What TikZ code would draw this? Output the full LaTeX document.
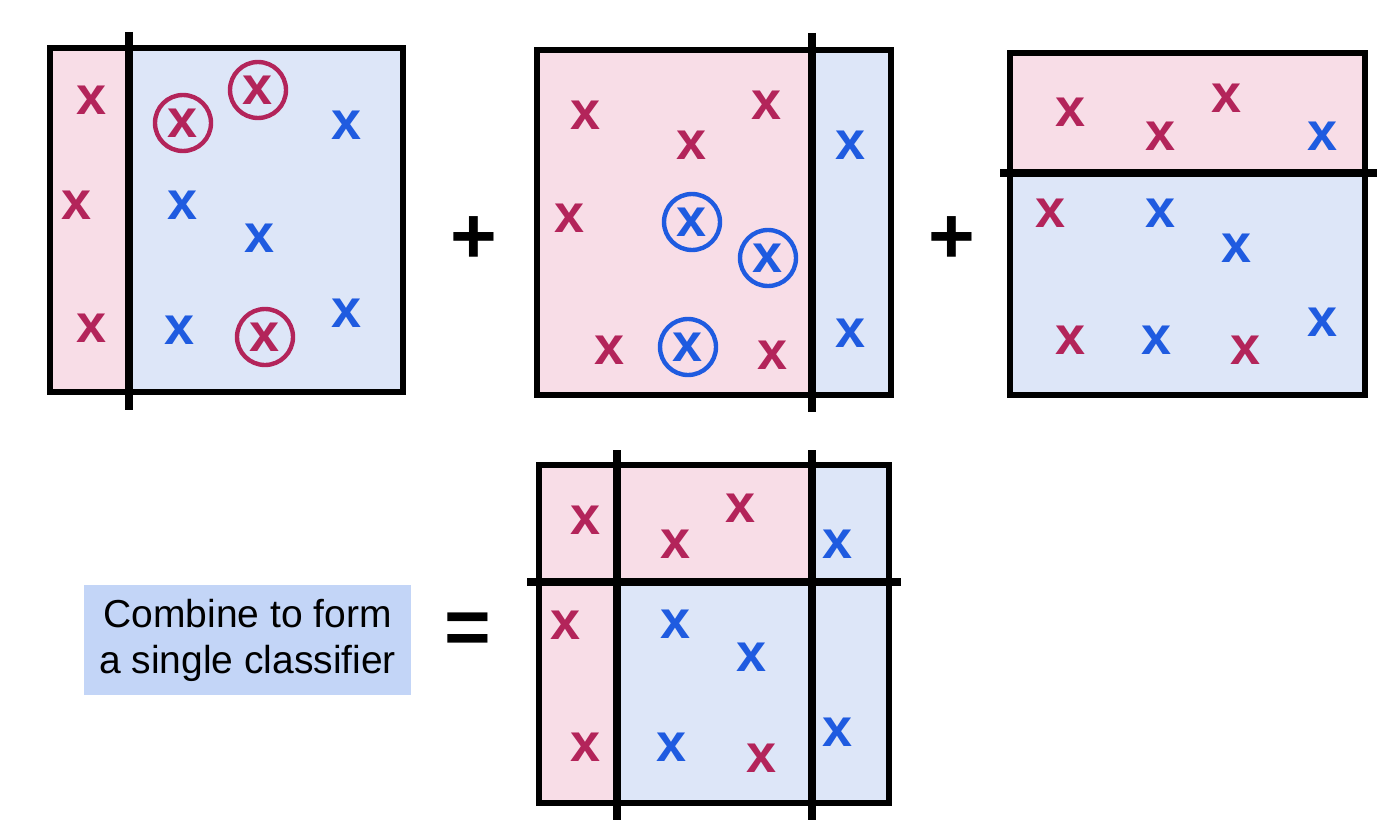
\documentclass[tikz,border=0pt]{standalone}
\usepackage{fontspec}
\setmainfont{Liberation Sans}
\definecolor{xr}{HTML}{B3245A}
\definecolor{xb}{HTML}{1F5BE0}
\definecolor{pk}{HTML}{F8DDE7}
\definecolor{bl}{HTML}{DDE6F8}
\definecolor{lab}{HTML}{C3D5F7}
\begin{document}
\begin{tikzpicture}[x=0.5pt,y=-0.5pt,
  rx/.style={text=xr,font=\fontsize{27}{28}\selectfont\bfseries,inner sep=0pt},
  bx/.style={text=xb,font=\fontsize{27}{28}\selectfont\bfseries,inner sep=0pt},
  rc/.style={rx,circle,draw=xr,line width=2.2pt,minimum size=28pt},
  bc/.style={bx,circle,draw=xb,line width=2.2pt,minimum size=28pt},
  frame/.style={draw=black,line width=2.6pt},
  sep/.style={draw=black,line width=3.8pt},
  op/.style={font=\fontsize{40}{40}\selectfont\bfseries,inner sep=0pt}]
\useasboundingbox[fill=white] (0,0) rectangle (1400,829);
% panel 1
\fill[pk] (50,48) rectangle (129,392);
\fill[bl] (129,48) rectangle (403,392);
\draw[frame] (50,48) rectangle (403,392);
\coordinate (a1) at (129,32); \coordinate (a2) at (129,410);
\draw[sep] (a1) -- (a2);
\node[rx] (p1a) at (92,100) {x};
\node[rx] (p1b) at (77,205) {x};
\node[rx] (p1c) at (92,328) {x};
\node[rc] (p1d) at (183,123) {x};
\node[rc] (p1e) at (258,90) {x};
\node[rc] (p1f) at (265,337) {x};
\node[bx] (p1g) at (347,125) {x};
\node[bx] (p1h) at (183,205) {x};
\node[bx] (p1i) at (260,238) {x};
\node[bx] (p1j) at (180,330) {x};
\node[bx] (p1k) at (347,313) {x};
\node[op] (plus1) at (474,240) {+};
% panel 2
\fill[pk] (537,50) rectangle (812,395);
\fill[bl] (812,50) rectangle (891,395);
\draw[frame] (537,50) rectangle (891,395);
\coordinate (b1) at (812,33); \coordinate (b2) at (812,412);
\draw[sep] (b1) -- (b2);
\node[rx] (p2a) at (586,115) {x};
\node[rx] (p2b) at (692,145) {x};
\node[rx] (p2c) at (767,105) {x};
\node[rx] (p2d) at (570,218) {x};
\node[rx] (p2e) at (610,350) {x};
\node[rx] (p2f) at (773,355) {x};
\node[bc] (p2g) at (692,222) {x};
\node[bc] (p2h) at (768,258) {x};
\node[bc] (p2i) at (688,347) {x};
\node[bx] (p2j) at (850,145) {x};
\node[bx] (p2k) at (850,333) {x};
\node[op] (plus2) at (952,240) {+};
% panel 3
\fill[pk] (1010,53) rectangle (1365,173);
\fill[bl] (1010,173) rectangle (1365,395);
\draw[frame] (1010,53) rectangle (1365,395);
\coordinate (c1) at (1000,173); \coordinate (c2) at (1377,173);
\draw[sep] (c1) -- (c2);
\node[rx] (p3a) at (1070,112) {x};
\node[rx] (p3b) at (1160,136) {x};
\node[rx] (p3c) at (1226,98) {x};
\node[rx] (p3d) at (1050,213) {x};
\node[rx] (p3e) at (1070,340) {x};
\node[rx] (p3f) at (1245,350) {x};
\node[bx] (p3g) at (1322,136) {x};
\node[bx] (p3h) at (1160,213) {x};
\node[bx] (p3i) at (1236,248) {x};
\node[bx] (p3j) at (1156,340) {x};
\node[bx] (p3k) at (1322,322) {x};
% bottom panel
\fill[pk] (539,465) rectangle (812,582);
\fill[bl] (812,465) rectangle (889,582);
\fill[pk] (539,582) rectangle (617,803);
\fill[bl] (617,582) rectangle (889,803);
\draw[frame] (539,465) rectangle (889,803);
\coordinate (d1) at (617,450); \coordinate (d2) at (617,820);
\coordinate (d3) at (812,450); \coordinate (d4) at (812,820);
\coordinate (d5) at (527,582); \coordinate (d6) at (901,582);
\draw[sep] (d1) -- (d2);
\draw[sep] (d3) -- (d4);
\draw[sep] (d5) -- (d6);
\node[rx] (q1) at (586,520) {x};
\node[rx] (q2) at (676,544) {x};
\node[rx] (q3) at (741,508) {x};
\node[rx] (q4) at (566,625) {x};
\node[rx] (q5) at (586,747) {x};
\node[rx] (q6) at (762,758) {x};
\node[bx] (q7) at (837,544) {x};
\node[bx] (q8) at (676,624) {x};
\node[bx] (q9) at (752,657) {x};
\node[bx] (q10) at (672,747) {x};
\node[bx] (q11) at (837,732) {x};
% label
\node[fill=lab,minimum width=163.5pt,minimum height=55pt,inner sep=0pt,align=center,font=\fontsize{19.5}{23}\selectfont] (lbl) at (247.5,640) {Combine to form\\a single classifier};
\node[op] (eq) at (468,634) {=};
\end{tikzpicture}
\end{document}
